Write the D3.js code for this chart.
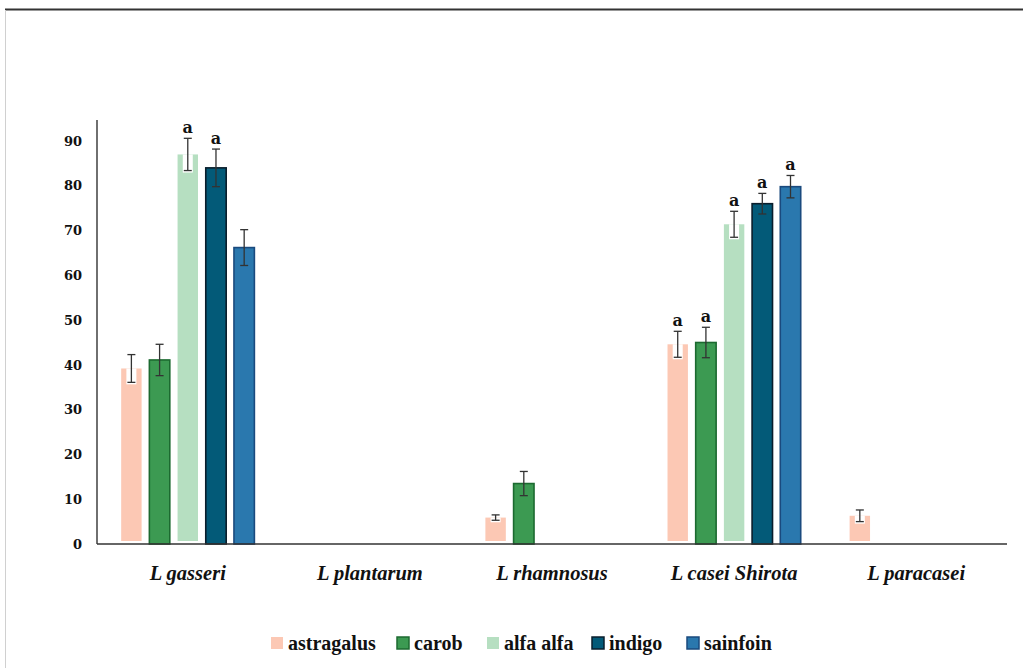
<!DOCTYPE html>
<html>
<head>
<meta charset="utf-8">
<script src="https://cdn.jsdelivr.net/npm/d3@7"></script>
<style>
  html, body { margin: 0; padding: 0; background: #fff; }
  svg { display: block; }
</style>
</head>
<body>
<svg id="chart" width="1023" height="668"></svg>
<script>
// Strains on the x axis
const categories = ["L gasseri", "L plantarum", "L rhamnosus", "L casei Shirota", "L paracasei"];
// Plant extracts (series)
const seriesNames = ["astragalus", "carob", "alfa alfa", "indigo", "sainfoin"];
// Mean values per series, one entry per strain (null = no bar)
const astragalus = [39.2, null, 5.9, 44.6, 6.3];
const carob      = [41.1, null, 13.5, 45.0, null];
const alfaAlfa   = [87.0, null, null, 71.4, null];
const indigo     = [84.0, null, null, 76.0, null];
const sainfoin   = [66.2, null, null, 79.8, null];
// Error (± value) per series
const astragalusErr = [3.1, null, 0.6, 2.9, 1.3];
const carobErr      = [3.5, null, 2.7, 3.4, null];
const alfaAlfaErr   = [3.6, null, null, 2.9, null];
const indigoErr     = [4.2, null, null, 2.3, null];
const sainfoinErr   = [4.0, null, null, 2.5, null];
// Significance letters
const astragalusSig = ["", "", "", "a", ""];
const carobSig      = ["", "", "", "a", ""];
const alfaAlfaSig   = ["a", "", "", "a", ""];
const indigoSig     = ["a", "", "", "a", ""];
const sainfoinSig   = ["", "", "", "a", ""];
// Y axis ticks
const yTicks = [0, 10, 20, 30, 40, 50, 60, 70, 80, 90];

const values = [astragalus, carob, alfaAlfa, indigo, sainfoin];
const errors = [astragalusErr, carobErr, alfaAlfaErr, indigoErr, sainfoinErr];
const sigs = [astragalusSig, carobSig, alfaAlfaSig, indigoSig, sainfoinSig];

const fills   = ["#fcc8b4", "#3c9a52", "#b6dfc1", "#035a78", "#2a78ae"];
const strokes = ["#fcd3c4", "#1c6a30", "#bfe3c8", "#0a1e2c", "#1a4a7e"];

const svg = d3.select("#chart");

// page frame
svg.append("line").attr("x1", 5).attr("x2", 1023).attr("y1", 9.5).attr("y2", 9.5)
  .attr("stroke", "#333").attr("stroke-width", 2);
svg.append("line").attr("x1", 5.5).attr("x2", 5.5).attr("y1", 10).attr("y2", 668)
  .attr("stroke", "#d0d0d0").attr("stroke-width", 1);

const plotLeft = 97, plotRight = 1007, plotTop = 120, plotBottom = 544;

const y = d3.scaleLinear().domain([0, 90]).range([plotBottom, 141]);
const x0 = d3.scaleBand().domain(categories).range([plotLeft, plotRight]).paddingInner(0.263).paddingOuter(0.13);
const x1 = d3.scaleBand().domain(seriesNames).range([0, x0.bandwidth()]).paddingInner(0.24);

const rows = [];
seriesNames.forEach((s, si) => {
  categories.forEach((c, ci) => {
    if (values[si][ci] != null) {
      rows.push({ s, si, c, v: values[si][ci], e: errors[si][ci], sig: sigs[si][ci] });
    }
  });
});

// bars
const pale = new Set([0, 2]);
svg.append("g").selectAll("rect").data(rows).join("rect")
  .attr("x", d => x0(d.c) + x1(d.s) + 0.5)
  .attr("y", d => y(d.v))
  .attr("width", x1.bandwidth() - 1)
  .attr("height", d => y(0) - y(d.v) - (pale.has(d.si) ? 3 : 0))
  .attr("fill", d => fills[d.si])
  .attr("stroke", d => strokes[d.si])
  .attr("stroke-width", d => pale.has(d.si) ? 0 : 1.6);

// axis lines
svg.append("line").attr("x1", plotLeft).attr("x2", plotLeft).attr("y1", plotTop).attr("y2", plotBottom)
  .attr("stroke", "#222").attr("stroke-width", 1.3);
svg.append("line").attr("x1", plotLeft).attr("x2", plotRight).attr("y1", plotBottom).attr("y2", plotBottom)
  .attr("stroke", "#333").attr("stroke-width", 1.5);

// y tick labels
const yAxis = d3.axisLeft(y).tickValues(yTicks).tickSize(0).tickPadding(15);
const gy = svg.append("g").attr("transform", `translate(${plotLeft},0)`).call(yAxis);
gy.select(".domain").remove();
gy.selectAll("text")
  .attr("font-family", "'DejaVu Serif', serif")
  .attr("font-weight", "bold")
  .attr("font-size", 13)
  .attr("fill", "#111");

// x category labels
const xAxis = d3.axisBottom(x0).tickSize(0).tickPadding(21);
const gx = svg.append("g").attr("transform", `translate(0,${plotBottom})`).call(xAxis);
gx.select(".domain").remove();
gx.selectAll("text")
  .attr("font-family", "'Liberation Serif', serif")
  .attr("font-style", "italic")
  .attr("font-weight", "bold")
  .attr("font-size", 20.5)
  .attr("fill", "#111");

// error bars
const eb = svg.append("g").attr("stroke", "#333").attr("stroke-width", 1.3);
rows.filter(d => d.e != null).forEach(d => {
  const cx = x0(d.c) + x1(d.s) + x1.bandwidth() / 2;
  if (pale.has(d.si)) {
    eb.append("rect").attr("x", cx - 5).attr("y", y(d.v)).attr("width", 10)
      .attr("height", y(d.v - d.e) - y(d.v) + 2).attr("fill", "#fff").attr("stroke", "none");
  }
  eb.append("line").attr("x1", cx).attr("x2", cx).attr("y1", y(d.v + d.e)).attr("y2", y(d.v - d.e));
  eb.append("line").attr("x1", cx - 4).attr("x2", cx + 4).attr("y1", y(d.v + d.e)).attr("y2", y(d.v + d.e));
  eb.append("line").attr("x1", cx - 4).attr("x2", cx + 4).attr("y1", y(d.v - d.e)).attr("y2", y(d.v - d.e));
});

// significance letters
svg.append("g").selectAll("text").data(rows.filter(d => d.sig)).join("text")
  .attr("x", d => x0(d.c) + x1(d.s) + x1.bandwidth() / 2)
  .attr("y", d => y(d.v + d.e) - 5)
  .attr("text-anchor", "middle")
  .attr("font-family", "'DejaVu Serif', serif")
  .attr("font-weight", "bold")
  .attr("font-size", 16)
  .attr("fill", "#111")
  .text(d => d.sig);

// legend
const legendX = [271, 397, 487, 592, 687];
const lg = svg.append("g");
seriesNames.forEach((s, i) => {
  const g = lg.append("g").attr("transform", `translate(${legendX[i]},643)`);
  g.append("rect").attr("x", 0).attr("y", -6).attr("width", 12).attr("height", 12)
    .attr("fill", fills[i]).attr("stroke", pale.has(i) ? "none" : strokes[i]).attr("stroke-width", 1.5);
  g.append("text").attr("x", 17).attr("y", 0).attr("dy", "0.35em")
    .attr("font-family", "'Liberation Serif', serif")
    .attr("font-weight", "bold")
    .attr("font-size", 20)
    .attr("fill", "#111")
    .text(s);
});
</script>
</body>
</html>
